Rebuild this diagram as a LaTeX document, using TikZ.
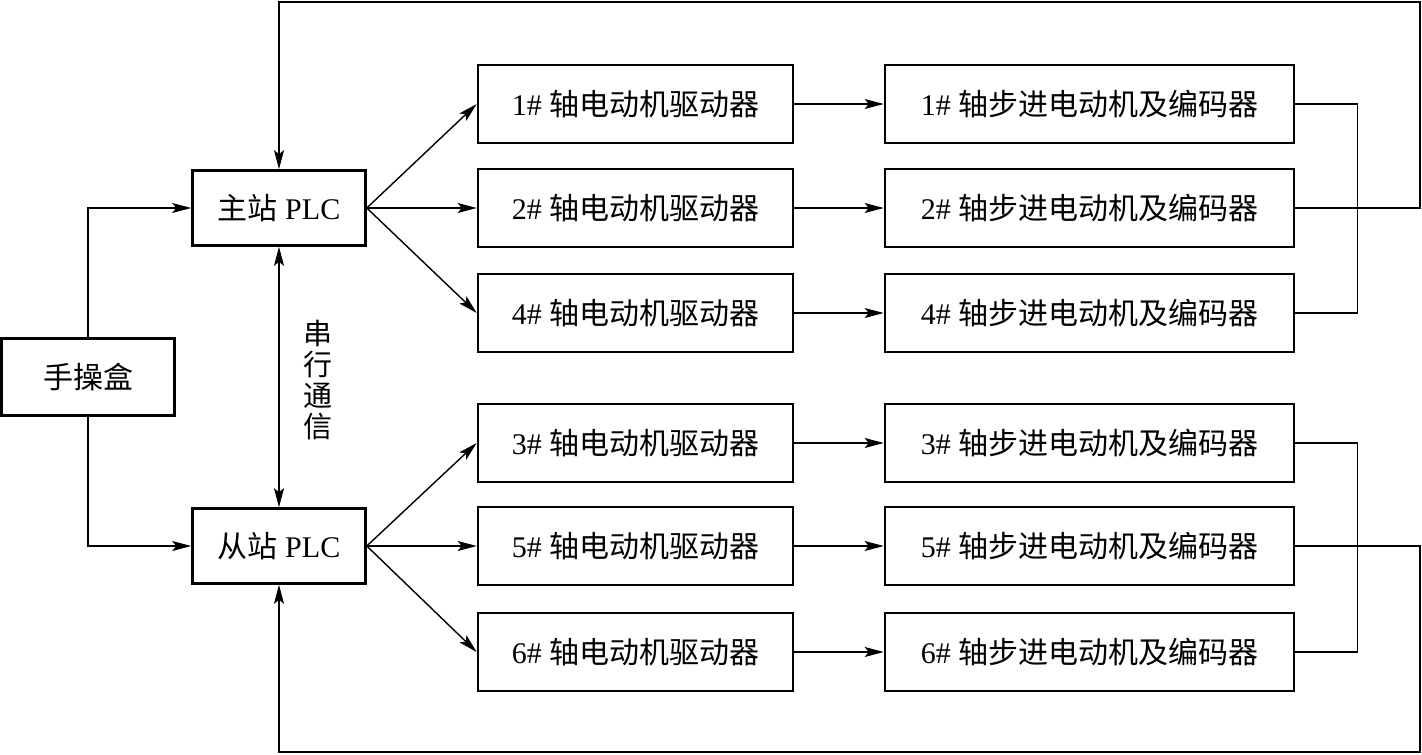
\documentclass[tikz,border=0pt]{standalone}
\usepackage{fontspec}
\setmainfont{Liberation Serif}
\newfontfamily\cjk{Noto Sans CJK SC}
\usetikzlibrary{arrows.meta,calc}
\begin{document}
\begin{tikzpicture}[x=1pt,y=-1pt,
  blk/.style={draw,line width=2.6pt,rectangle,inner sep=0pt,font=\fontsize{30}{34}\selectfont},
  conn/.style={line width=1.4pt},
  arr/.style={conn,-{Stealth[length=19pt,width=10pt,inset=4pt]}},
  darr/.style={conn,{Stealth[length=19pt,width=10pt,inset=4pt]}-{Stealth[length=19pt,width=10pt,inset=4pt]}}]
\useasboundingbox (0,0) rectangle (1422,755);
\node[blk,minimum width=173pt,minimum height=77pt] (hand) at (88,377) {\cjk 手操盒};
\node[blk,minimum width=173pt,minimum height=75pt] (master) at (279,208) {{\cjk 主站} PLC};
\node[blk,minimum width=173pt,minimum height=75pt] (slave) at (279,546) {{\cjk 从站} PLC};
\foreach \n/\y in {1/104,2/208,4/313,3/443,5/546,6/652}{
  \node[blk,minimum width=315pt,minimum height=78pt] (d\n) at (635.5,\y) {\n\#\ {\cjk 轴电动机驱动器}};
  \node[blk,minimum width=409pt,minimum height=78pt] (m\n) at (1089.5,\y) {\n\#\ {\cjk 轴步进电动机及编码器}};
  \draw[arr] (d\n.east) -- (m\n.west);
}
% hand box to PLCs
\draw[arr] (hand.north) |- (master.west);
\draw[arr] (hand.south) |- (slave.west);
% PLCs to drivers
\foreach \n in {1,2,4}{\draw[arr] (master.east) -- (d\n.west);}
\foreach \n in {3,5,6}{\draw[arr] (slave.east) -- (d\n.west);}
% serial link
\draw[darr] (master.south) -- (slave.north);
\node[font=\fontsize{29}{31}\selectfont\cjk,align=center,inner sep=0pt] (ser) at (318,380) {串\\行\\通\\信};
% motor links
\draw[conn] (m1.east) -- ++(62,0) |- (m4.east);
\draw[conn] (m3.east) -- ++(62,0) |- (m6.east);
\coordinate (tr) at (1420,2);
\coordinate (br) at (1420,752);
\draw[arr] (m2.east) -| (tr) -| (master.north);
\draw[arr] (m5.east) -| (br) -| (slave.south);
\end{tikzpicture}
\end{document}
